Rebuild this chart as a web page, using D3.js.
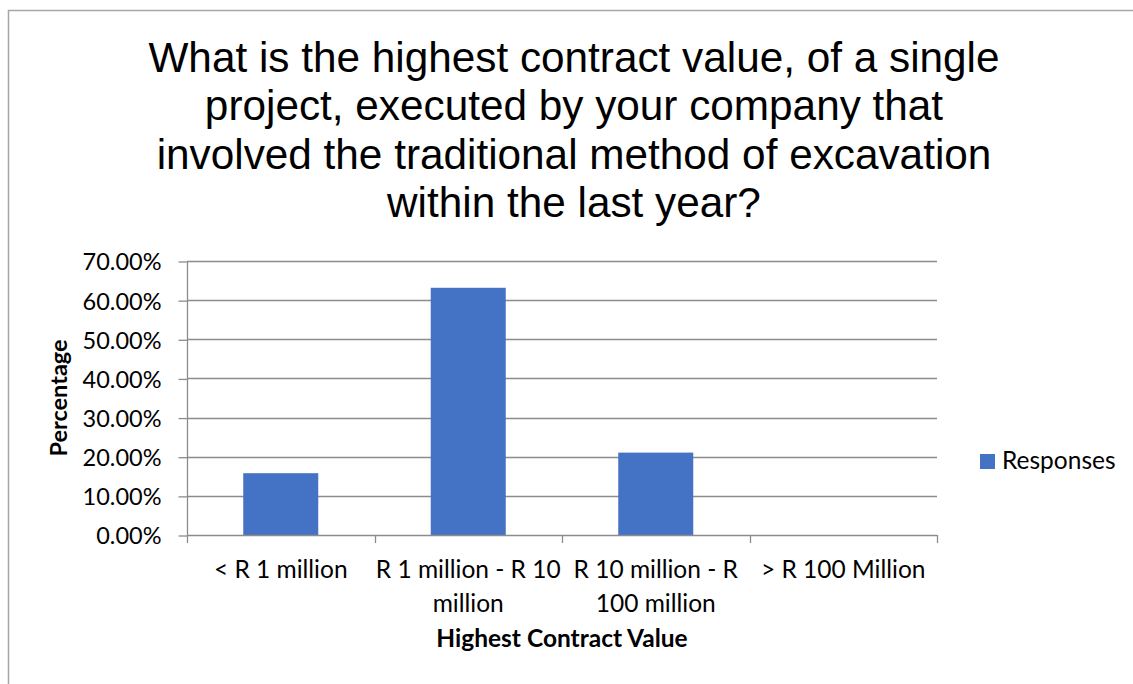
<!DOCTYPE html>
<html>
<head>
<meta charset="utf-8">
<script src="https://cdn.jsdelivr.net/npm/d3@7"></script>
<style>
  html, body { margin: 0; padding: 0; background: #fff; }
  svg { display: block; }
</style>
</head>
<body>
<svg id="chart" width="1133" height="684"></svg>
<script>
// Survey responses by highest contract value
const categories = [
  ["< R 1 million"],
  ["R 1 million - R 10", "million"],
  ["R 10 million - R", "100 million"],
  ["> R 100 Million"]
];
const responses = [0.1579, 0.6316, 0.2105, 0];
const yTicks = [0, 0.1, 0.2, 0.3, 0.4, 0.5, 0.6, 0.7];
const seriesName = "Responses";
const titleLines = [
  "What is the highest contract value, of a single",
  "project, executed by your company that",
  "involved the traditional method of excavation",
  "within the last year?"
];
const xTitle = "Highest Contract Value";
const yTitle = "Percentage";

const svg = d3.select("#chart");
const W = 1133, H = 684;
const plot = { left: 187, right: 937, top: 261, bottom: 535 };
const labelFont = "Lato, 'Open Sans', sans-serif";
const labelSize = 24.5;
const gridColor = "#8c8c8c";
const barColor = "#4472C4";

svg.append("rect").attr("width", W).attr("height", H).attr("fill", "#fff");

// Chart area frame
svg.append("rect")
  .attr("x", 8.5).attr("y", 10.5)
  .attr("width", 1300).attr("height", 900)
  .attr("fill", "none").attr("stroke", "#a6a6a6").attr("stroke-width", 1.5);

// Title
svg.append("text")
  .attr("text-anchor", "middle")
  .attr("font-family", "'Liberation Sans', Arial, sans-serif")
  .attr("font-size", 42.3)
  .attr("fill", "#000")
  .selectAll("tspan").data(titleLines).join("tspan")
  .attr("x", 574)
  .attr("y", (d, i) => 72 + i * 48.3)
  .text(d => d);

const x = d3.scaleBand()
  .domain(d3.range(categories.length))
  .range([plot.left, plot.right])
  .paddingInner(0.6)
  .paddingOuter(0.3);

const y = d3.scaleLinear().domain([0, 0.7]).range([plot.bottom, plot.top]);

// Horizontal gridlines
svg.append("g")
  .selectAll("line").data(yTicks.slice(1)).join("line")
  .attr("x1", plot.left).attr("x2", plot.right)
  .attr("y1", d => Math.round(y(d)) + 0.5).attr("y2", d => Math.round(y(d)) + 0.5)
  .attr("stroke", gridColor).attr("stroke-width", 1.3);

// Bars
svg.append("g")
  .selectAll("rect").data(responses).join("rect")
  .attr("x", (d, i) => x(i))
  .attr("width", x.bandwidth())
  .attr("y", d => y(d))
  .attr("height", d => y(0) - y(d))
  .attr("fill", barColor);

// Y axis
const yAxis = d3.axisLeft(y)
  .tickValues(yTicks)
  .tickFormat(d3.format(".2%"))
  .tickSize(9)
  .tickPadding(17);
const gy = svg.append("g")
  .attr("transform", `translate(${plot.left + 0.5},0.5)`)
  .call(yAxis);
gy.select(".domain").attr("stroke", gridColor).attr("stroke-width", 1.3)
  .attr("d", `M0,${plot.top - 0.5}V${plot.bottom}`);
gy.selectAll(".tick line").attr("stroke", gridColor).attr("stroke-width", 1.3);
gy.selectAll(".tick text")
  .attr("font-family", labelFont).attr("font-size", 23.5).attr("fill", "#000")
  .attr("dy", "0.36em");

// X axis: ticks at category boundaries
const boundaries = d3.range(categories.length + 1)
  .map(i => plot.left + i * (plot.right - plot.left) / categories.length);
const gx = svg.append("g");
gx.append("line")
  .attr("x1", plot.left).attr("x2", plot.right)
  .attr("y1", plot.bottom + 0.5).attr("y2", plot.bottom + 0.5)
  .attr("stroke", gridColor).attr("stroke-width", 1.3);
gx.selectAll("line.tk").data(boundaries).join("line")
  .attr("class", "tk")
  .attr("x1", d => Math.round(d) + 0.5).attr("x2", d => Math.round(d) + 0.5)
  .attr("y1", plot.bottom).attr("y2", plot.bottom + 8)
  .attr("stroke", gridColor).attr("stroke-width", 1.3);

gx.selectAll("text.cat").data(categories).join("text")
  .attr("class", "cat")
  .attr("text-anchor", "middle")
  .attr("font-family", labelFont).attr("font-size", labelSize).attr("fill", "#000")
  .each(function (lines, i) {
    d3.select(this).selectAll("tspan").data(lines).join("tspan")
      .attr("x", x(i) + x.bandwidth() / 2)
      .attr("y", (d, j) => 578 + j * 33.5)
      .text(d => d);
  });

// Axis titles
svg.append("text")
  .attr("x", (plot.left + plot.right) / 2).attr("y", 647)
  .attr("text-anchor", "middle")
  .attr("font-family", labelFont).attr("font-size", 24.5).attr("font-weight", "bold")
  .attr("fill", "#000")
  .text(xTitle);

svg.append("text")
  .attr("transform", `translate(67,${(plot.top + plot.bottom) / 2}) rotate(-90)`)
  .attr("text-anchor", "middle")
  .attr("font-family", labelFont).attr("font-size", 23.5).attr("font-weight", "bold")
  .attr("fill", "#000")
  .text(yTitle);

// Legend
const legend = svg.append("g").attr("transform", "translate(980,454)");
legend.append("rect").attr("width", 15).attr("height", 15).attr("fill", barColor);
legend.append("text")
  .attr("x", 22).attr("y", 14.5)
  .attr("font-family", labelFont).attr("font-size", labelSize).attr("fill", "#000")
  .text(seriesName);
</script>
</body>
</html>
